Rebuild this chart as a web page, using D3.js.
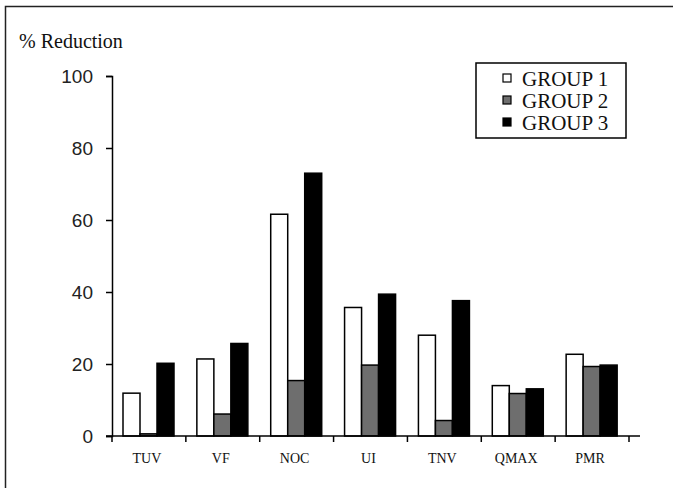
<!DOCTYPE html>
<html><head><meta charset="utf-8">
<script src="https://cdn.jsdelivr.net/npm/d3@7"></script>
<style>body{margin:0;background:#fff}svg{display:block}</style>
</head><body>
<script>
const categories = ["TUV","VF","NOC","UI","TNV","QMAX","PMR"];
const seriesNames = ["GROUP 1","GROUP 2","GROUP 3"];
const group1 = [11.9, 21.4, 61.6, 35.7, 28.0, 14.0, 22.7];
const group2 = [0.6, 6.1, 15.4, 19.7, 4.3, 11.8, 19.3];
const group3 = [20.2, 25.7, 73.0, 39.4, 37.6, 13.1, 19.7];
const yTicks = [0, 20, 40, 60, 80, 100];
const colors = ["#ffffff", "#6e6e6e", "#000000"];
const series = [group1, group2, group3];

const W = 677, H = 488;
const svg = d3.select("body").append("svg").attr("width", W).attr("height", H);
svg.append("rect").attr("width", W).attr("height", H).attr("fill", "#fff");
// frame (top and left edges visible)
svg.append("path").attr("d", "M5.5,488 L5.5,6.5 L673,6.5")
  .attr("fill", "none").attr("stroke", "#222").attr("stroke-width", 1.5);

const x0 = 112, x1 = 629, yTop = 76, yBot = 436;
const x = d3.scaleBand().domain(categories).range([x0, x1]).paddingInner(0).paddingOuter(0);
const y = d3.scaleLinear().domain([0, 100]).range([yBot, yTop]);
const bw = 17, groupOff = 11;

// bars
series.forEach((vals, si) => {
  svg.append("g").selectAll("rect").data(vals).join("rect")
    .attr("x", (d, i) => x(categories[i]) + groupOff + si * bw)
    .attr("y", d => y(d))
    .attr("width", bw)
    .attr("height", d => y(0) - y(d))
    .attr("fill", colors[si])
    .attr("stroke", "#000").attr("stroke-width", 1.5);
});

// y axis
const yAxis = d3.axisLeft(y).tickValues(yTicks).tickSize(6).tickPadding(13).tickFormat(d3.format("d"));
const gy = svg.append("g").attr("transform", `translate(${x0},0)`).call(yAxis);
gy.select(".domain").attr("stroke", "#000").attr("stroke-width", 1.5);
gy.selectAll(".tick line").attr("stroke", "#000").attr("stroke-width", 1.5);
gy.selectAll(".tick text").attr("font-family", "Liberation Sans, Arial, sans-serif")
  .attr("font-size", 19).attr("fill", "#222");

// x axis
const gx = svg.append("g").attr("transform", `translate(0,${yBot})`);
gx.append("line").attr("x1", x0 - 6).attr("x2", 640).attr("stroke", "#000").attr("stroke-width", 1.5);
const tickPos = categories.map(c => x(c)).concat([x1]);
gx.selectAll("line.t").data(tickPos).join("line").attr("class", "t")
  .attr("x1", d => d).attr("x2", d => d).attr("y1", 0).attr("y2", 6)
  .attr("stroke", "#000").attr("stroke-width", 1.5);
gx.selectAll("text").data(categories).join("text")
  .attr("x", d => x(d) + x.bandwidth() / 2 - 2).attr("y", 27)
  .attr("text-anchor", "middle")
  .attr("font-family", "Liberation Serif, Times New Roman, serif")
  .attr("font-size", 14).attr("fill", "#111").text(d => d);

// y title
svg.append("text").attr("x", 19).attr("y", 48)
  .attr("font-family", "Liberation Serif, Times New Roman, serif")
  .attr("font-size", 20).attr("fill", "#111").text("% Reduction");

// legend
const lg = svg.append("g");
lg.append("rect").attr("x", 476).attr("y", 63).attr("width", 150).attr("height", 75)
  .attr("fill", "#fff").attr("stroke", "#000").attr("stroke-width", 1.5);
seriesNames.forEach((n, i) => {
  const by = 86 + i * 22;
  lg.append("rect").attr("x", 503).attr("y", by - 12).attr("width", 8).attr("height", 8)
    .attr("fill", colors[i]).attr("stroke", "#000").attr("stroke-width", 1.2);
  lg.append("text").attr("x", 522).attr("y", by)
    .attr("font-family", "Liberation Serif, Times New Roman, serif")
    .attr("font-size", 21).attr("fill", "#111").text(n);
});
</script>
</body></html>
